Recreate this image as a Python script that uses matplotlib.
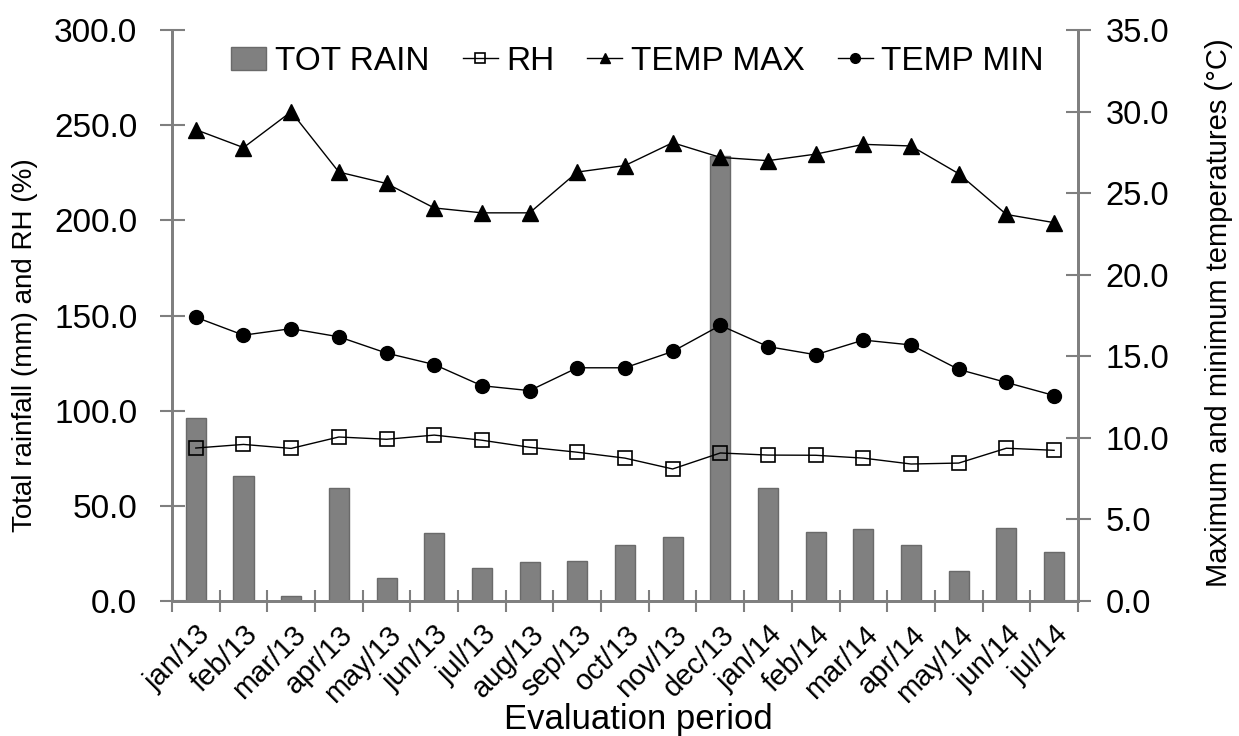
import numpy as np
import matplotlib
matplotlib.use("Agg")
import matplotlib.pyplot as plt

# --- data ---
periods = ["jan/13", "feb/13", "mar/13", "apr/13", "may/13", "jun/13", "jul/13",
           "aug/13", "sep/13", "oct/13", "nov/13", "dec/13", "jan/14", "feb/14",
           "mar/14", "apr/14", "may/14", "jun/14", "jul/14"]
tot_rain = [96.0, 65.5, 2.6, 59.5, 12.0, 35.7, 17.3, 20.5, 21.0, 29.4, 33.6,
            234.0, 59.5, 36.3, 37.8, 29.4, 15.8, 38.4, 25.7]
rh = [80.4, 82.3, 80.2, 86.2, 85.0, 87.2, 84.5, 80.8, 78.2, 75.1, 69.4,
      77.8, 76.7, 76.6, 75.1, 72.0, 72.5, 80.3, 79.2]
temp_max = [28.9, 27.8, 30.0, 26.3, 25.6, 24.1, 23.8, 23.8, 26.3, 26.7, 28.1,
            27.2, 27.0, 27.4, 28.0, 27.9, 26.2, 23.7, 23.2]
temp_min = [17.4, 16.3, 16.7, 16.2, 15.2, 14.5, 13.2, 12.9, 14.3, 14.3, 15.3,
            16.9, 15.6, 15.1, 16.0, 15.7, 14.2, 13.4, 12.6]

plt.rcParams['font.family'] = ['Liberation Sans', 'DejaVu Sans']
SPINE = '#7f7f7f'

fig = plt.figure(figsize=(12.39, 7.36), dpi=100)
ax = fig.add_axes([0.1388, 0.1834, 0.7312, 0.7756])
ax2 = ax.twinx()

x = np.arange(len(periods))
bars = ax.bar(x, tot_rain, width=0.42, color='#808080', edgecolor='#6a6a6a',
              linewidth=1, label='TOT RAIN', zorder=2)
rh_line, = ax.plot(x, rh, color='black', lw=1, marker='s', markersize=10,
                   markerfacecolor='none', markeredgecolor='black',
                   markeredgewidth=1.2, label='RH', zorder=3)
tmax_line, = ax2.plot(x, temp_max, color='black', lw=1, marker='^',
                      markersize=11, label='TEMP MAX')
tmin_line, = ax2.plot(x, temp_min, color='black', lw=1, marker='o',
                      markersize=10, label='TEMP MIN')

ax.set_xlim(-0.5, len(periods) - 0.5)
ax.set_ylim(0, 300)
ax2.set_ylim(0, 35)
ax.set_yticks(np.arange(0, 301, 50))
ax2.set_yticks(np.arange(0, 36, 5))
ax.set_yticklabels([f"{v:.1f}" for v in np.arange(0, 301, 50)], fontsize=24)
ax2.set_yticklabels([f"{v:.1f}" for v in np.arange(0, 36, 5)], fontsize=23.5)

ax.set_xticks(x)
ax.set_xticklabels(periods, rotation=45, ha='right', rotation_mode='anchor',
                   fontsize=21)
ax.set_xticks(np.arange(-0.5, len(periods) + 0.5, 1), minor=True)
ax.tick_params(axis='x', which='major', length=0, pad=14)
ax.tick_params(axis='x', which='minor', direction='inout', length=16,
               width=1.5, color=SPINE)
ax.tick_params(axis='y', direction='inout', length=18, width=1.5,
               color=SPINE, pad=16)
ax2.tick_params(axis='y', direction='inout', length=18, width=1.5,
                color=SPINE, pad=11)

for a in (ax, ax2):
    a.spines['top'].set_visible(False)
    for s in ('left', 'right', 'bottom'):
        a.spines[s].set_color(SPINE)
        a.spines[s].set_linewidth(2)

ax.set_ylabel('Total rainfall (mm) and RH (%)', fontsize=20)
ax.yaxis.set_label_coords(-0.148, 0.448)
ax2.set_ylabel('Maximum and minimum temperatures (°C)', fontsize=21)
ax2.yaxis.set_label_coords(1.140, 0.505)
ax.set_xlabel('Evaluation period', fontsize=25)
ax.xaxis.set_label_coords(0.515, -0.178)

ax.legend([bars, rh_line, tmax_line, tmin_line],
          ['TOT RAIN', 'RH', 'TEMP MAX', 'TEMP MIN'],
          loc='upper center', bbox_to_anchor=(0.514, 1.025), ncol=4,
          frameon=False, fontsize=24, handlelength=1.05, handletextpad=0.25,
          columnspacing=1.0, markerscale=0.7)

fig.savefig('out.png', dpi=100)
